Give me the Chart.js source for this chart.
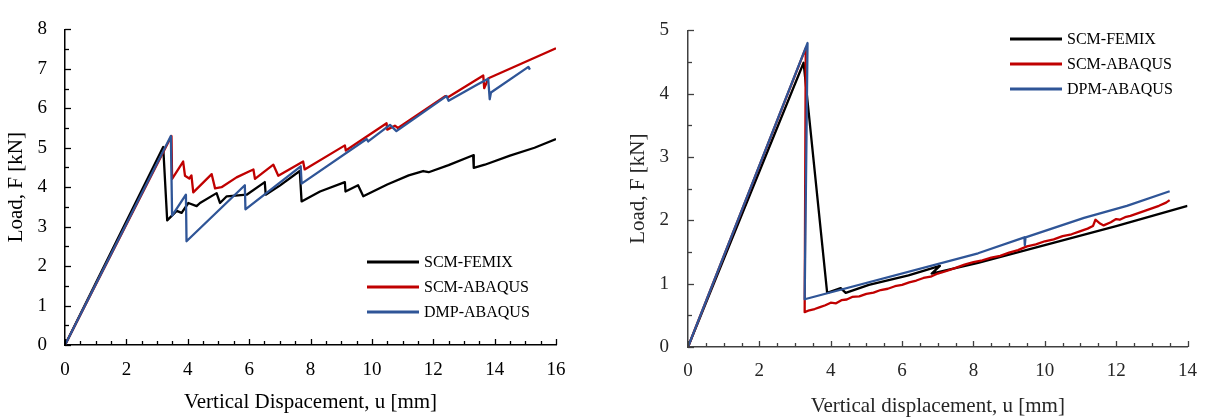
<!DOCTYPE html>
<html>
<head>
<meta charset="utf-8">
<script src="https://cdn.jsdelivr.net/npm/chart.js@4.4.1/dist/chart.umd.min.js"></script>
<style>
    html, body { margin: 0; padding: 0; background: #fff; }
    .wrap { position: absolute; top: 0; width: 605px; height: 419px; }
    #leftWrap { left: 0; }
    #rightWrap { left: 605px; }
</style>
</head>
<body>
<div class="wrap" id="leftWrap"><canvas id="leftChart" width="605" height="419"></canvas></div>
<div class="wrap" id="rightWrap"><canvas id="rightChart" width="605" height="419"></canvas></div>
<script>
// Left panel: load vs vertical displacement (kN / mm)
const femixX = [0, 3.20, 3.33, 3.64, 3.80, 4.02, 4.29, 4.40, 4.94, 5.05, 5.27, 5.92, 6.51, 6.54, 7.00, 7.65, 7.71, 8.31, 9.12, 9.14, 9.55, 9.72, 10.5, 11.2, 11.67, 11.85, 12.5, 13.30, 13.32, 13.68, 14.5, 15.3, 16.0];
const femixY = [0, 5.02, 3.16, 3.40, 3.35, 3.60, 3.52, 3.60, 3.85, 3.60, 3.77, 3.81, 4.13, 3.81, 4.04, 4.41, 3.64, 3.89, 4.13, 3.89, 4.05, 3.77, 4.07, 4.30, 4.41, 4.38, 4.56, 4.81, 4.49, 4.57, 4.80, 5.00, 5.22];

const scmX = [0, 3.47, 3.49, 3.85, 3.91, 4.05, 4.12, 4.18, 4.78, 4.89, 5.10, 5.59, 6.03, 6.14, 6.19, 6.79, 6.95, 7.76, 7.81, 9.12, 9.15, 10.48, 10.50, 10.75, 10.85, 12.40, 12.48, 13.63, 13.66, 13.80, 16.0];
const scmY = [0, 5.30, 4.21, 4.65, 4.29, 4.22, 4.30, 3.87, 4.33, 3.97, 4.00, 4.25, 4.41, 4.45, 4.21, 4.57, 4.29, 4.65, 4.45, 5.06, 4.93, 5.62, 5.46, 5.56, 5.50, 6.31, 6.28, 6.83, 6.51, 6.76, 7.52];

const dmpX = [0, 3.45, 3.49, 3.94, 3.96, 5.86, 5.88, 7.68, 7.71, 9.83, 9.88, 10.59, 10.80, 12.43, 12.50, 13.41, 13.79, 13.84, 13.88, 15.10, 15.15];
const dmpY = [0, 5.30, 3.28, 3.81, 2.63, 4.05, 3.44, 4.53, 4.09, 5.22, 5.16, 5.58, 5.42, 6.31, 6.19, 6.59, 6.75, 6.23, 6.40, 7.05, 6.98];

// Right panel
const femixX2 = [0, 3.24, 3.90, 4.28, 4.42, 5.07, 6.18, 7.06, 6.83, 8.13, 10.0, 12.0, 14.0];
const femixY2 = [0, 4.49, 0.855, 0.93, 0.855, 0.98, 1.13, 1.28, 1.16, 1.33, 1.61, 1.91, 2.23];

const scmX2 = [0, 3.30, 3.27, 3.40, 3.55, 3.70, 3.85, 4.00, 4.15, 4.30, 4.45, 4.60, 4.80, 5.00, 5.20, 5.40, 5.60, 5.80, 6.00, 6.20, 6.40, 6.60, 6.80, 7.00, 7.25, 7.50, 7.75, 8.00, 8.25, 8.50, 8.75, 9.00, 9.25, 9.50, 9.75, 10.0, 10.25, 10.5, 10.75, 11.0, 11.2, 11.35, 11.42, 11.55, 11.65, 11.85, 12.0, 12.1, 12.25, 12.4, 12.6, 12.8, 13.0, 13.2, 13.4, 13.5];
const scmY2 = [0, 4.72, 0.55, 0.58, 0.60, 0.63, 0.66, 0.70, 0.69, 0.74, 0.75, 0.79, 0.80, 0.84, 0.86, 0.90, 0.92, 0.96, 0.98, 1.02, 1.05, 1.09, 1.11, 1.16, 1.20, 1.25, 1.30, 1.34, 1.37, 1.41, 1.44, 1.49, 1.53, 1.59, 1.62, 1.67, 1.70, 1.75, 1.78, 1.83, 1.87, 1.91, 2.01, 1.95, 1.92, 1.97, 2.02, 2.01, 2.05, 2.07, 2.11, 2.15, 2.19, 2.23, 2.28, 2.32];

const dpmX2 = [0, 3.35, 3.27, 8.13, 9.43, 9.44, 9.46, 11.1, 12.3, 13.5];
const dpmY2 = [0, 4.80, 0.754, 1.48, 1.73, 1.61, 1.73, 2.04, 2.23, 2.46];

const leftLabels = ['SCM-FEMIX', 'SCM-ABAQUS', 'DMP-ABAQUS'];
const rightLabels = ['SCM-FEMIX', 'SCM-ABAQUS', 'DPM-ABAQUS'];
const colors = ['#000000', '#C00000', '#2F5597'];

const serif = '"Liberation Serif", "Times New Roman", serif';

function toPoints(xs, ys) {
    return xs.map((x, i) => ({ x: x, y: ys[i] }));
}

function makeDatasets(labels, series) {
    return series.map((s, i) => ({
        label: labels[i],
        data: toPoints(s[0], s[1]),
        borderColor: colors[i],
        borderWidth: 2.3,
        pointRadius: 0,
        tension: 0,
        showLine: true,
        fill: false,
        borderJoinStyle: 'round',
        order: 2 - i   // blue on top, black underneath
    }));
}

// Small tick marks pointing into the plot (Excel style)
const innerTicks = {
    id: 'innerTicks',
    afterDraw(chart, args, opts) {
        const ctx = chart.ctx;
        const xs = chart.scales.x, ys = chart.scales.y;
        ctx.save();
        ctx.strokeStyle = opts.color;
        ctx.lineWidth = 1.3;
        for (let v = xs.min; v <= xs.max + 1e-9; v += 0.5) {
            const px = Math.round(xs.getPixelForValue(v)) + 0.5;
            const major = Math.abs(v / opts.xMajor - Math.round(v / opts.xMajor)) < 1e-6;
            ctx.beginPath();
            ctx.moveTo(px, xs.top);
            ctx.lineTo(px, xs.top - (major ? 6 : 4));
            ctx.stroke();
        }
        for (let v = ys.min; v <= ys.max + 1e-9; v += 0.5) {
            const py = Math.round(ys.getPixelForValue(v)) + 0.5;
            const major = Math.abs(v - Math.round(v)) < 1e-6;
            ctx.beginPath();
            ctx.moveTo(ys.right, py);
            ctx.lineTo(ys.right + (major ? 6 : 4), py);
            ctx.stroke();
        }
        ctx.restore();
    }
};

// Legend drawn inside the plot area
const insideLegend = {
    id: 'insideLegend',
    afterDraw(chart, args, opts) {
        const ctx = chart.ctx;
        ctx.save();
        ctx.font = '16px ' + serif;
        ctx.textBaseline = 'middle';
        ctx.textAlign = 'left';
        chart.data.datasets.forEach((ds, i) => {
            const y = opts.top + i * opts.gap;
            ctx.strokeStyle = ds.borderColor;
            ctx.lineWidth = 3;
            ctx.beginPath();
            ctx.moveTo(opts.left, y);
            ctx.lineTo(opts.left + 52, y);
            ctx.stroke();
            ctx.fillStyle = opts.color;
            ctx.fillText(ds.label, opts.left + 57, y + 1);
        });
        ctx.restore();
    }
};

function buildChart(id, cfg) {
    const ctx = document.getElementById(id).getContext('2d');
    return new Chart(ctx, {
        type: 'scatter',
        data: { datasets: cfg.datasets },
        plugins: [innerTicks, insideLegend],
        options: {
            responsive: false,
            animation: false,
            layout: { padding: cfg.padding },
            plugins: {
                legend: { display: false },
                tooltip: { enabled: false },
                innerTicks: { color: cfg.axisColor, xMajor: 2 },
                insideLegend: cfg.legend
            },
            scales: {
                x: {
                    type: 'linear',
                    min: 0,
                    max: cfg.xMax,
                    grid: { display: false, drawTicks: false },
                    border: { display: true, color: cfg.axisColor, width: 1.5 },
                    ticks: {
                        stepSize: 2,
                        padding: cfg.xTickPad,
                        color: cfg.textColor,
                        font: { family: serif, size: 19 }
                    },
                    title: {
                        display: true,
                        text: cfg.xTitle,
                        color: cfg.textColor,
                        font: { family: serif, size: 21 },
                        padding: { top: 0, bottom: cfg.xTitlePad }
                    },
                    afterFit: (scale) => { scale.height = cfg.xHeight; }
                },
                y: {
                    type: 'linear',
                    min: 0,
                    max: cfg.yMax,
                    grid: { display: false, drawTicks: false },
                    border: { display: true, color: cfg.axisColor, width: 1.5 },
                    ticks: {
                        stepSize: 1,
                        padding: cfg.yTickPad,
                        color: cfg.textColor,
                        font: { family: serif, size: 19 }
                    },
                    title: {
                        display: true,
                        text: 'Load, F [kN]',
                        color: cfg.textColor,
                        font: { family: serif, size: 21 },
                        padding: { top: cfg.yTitlePad, bottom: 0 }
                    },
                    afterFit: (scale) => { scale.width = cfg.yWidth; }
                }
            }
        }
    });
}

buildChart('leftChart', {
    datasets: makeDatasets(leftLabels, [[femixX, femixY], [scmX, scmY], [dmpX, dmpY]]),
    padding: { left: 0, top: 15, right: 49, bottom: 0 },
    xMax: 16, yMax: 8,
    xTitle: 'Vertical Dispacement, u [mm]',
    xHeight: 74, yWidth: 65,
    xTickPad: 14, yTickPad: 18,
    xTitlePad: 4, yTitlePad: 4,
    axisColor: '#000000', textColor: '#000000',
    legend: { left: 367, top: 262, gap: 25, color: '#000000' }
});

buildChart('rightChart', {
    datasets: makeDatasets(rightLabels, [[femixX2, femixY2], [scmX2, scmY2], [dpmX2, dpmY2]]),
    padding: { left: 0, top: 15, right: 19, bottom: 0 },
    xMax: 14, yMax: 5,
    xTitle: 'Vertical displacement, u [mm]',
    xHeight: 72, yWidth: 83,
    xTickPad: 13, yTickPad: 19,
    xTitlePad: 0, yTitlePad: 21,
    axisColor: '#404040', textColor: '#262626',
    legend: { left: 405, top: 39, gap: 25, color: '#000000' }
});
</script>
</body>
</html>
